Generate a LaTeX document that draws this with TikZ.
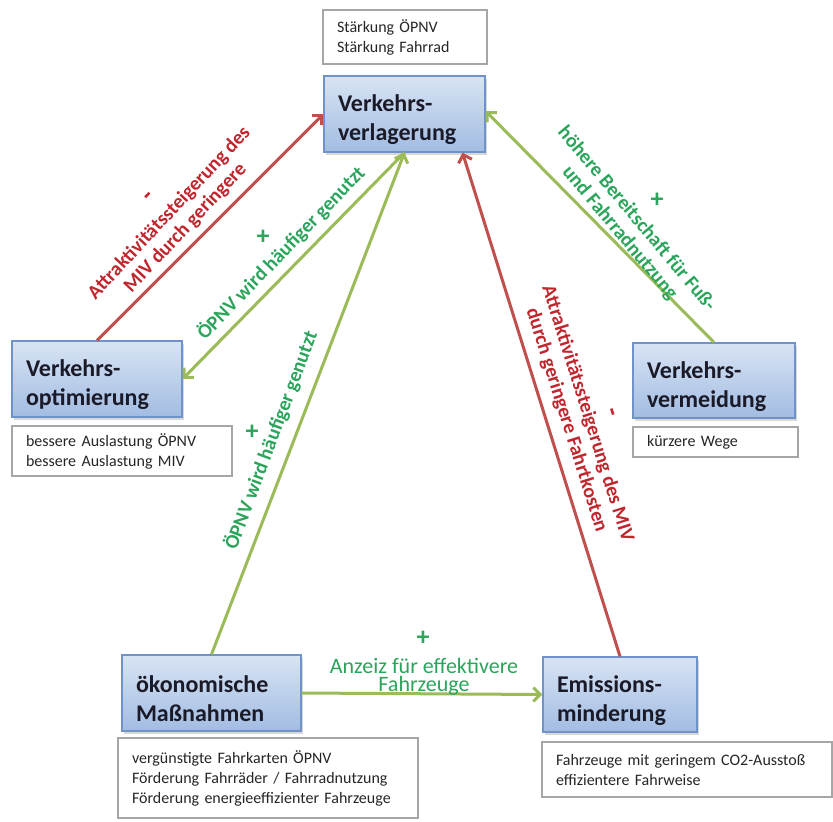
\documentclass[tikz,border=0pt]{standalone}
\usepackage{fontspec}
\setmainfont{Carlito}
\usetikzlibrary{arrows.meta,shadows}
\definecolor{nodeborder}{HTML}{6F93C8}
\definecolor{nodetop}{HTML}{D8E4F4}
\definecolor{nodebot}{HTML}{A2BCE2}
\definecolor{nodetext}{HTML}{1A1A28}
\definecolor{boxborder}{HTML}{A6A6A6}
\definecolor{boxtext}{HTML}{262626}
\definecolor{redline}{HTML}{C0504D}
\definecolor{redtext}{HTML}{C0262D}
\definecolor{greenline}{HTML}{9BBB59}
\definecolor{greentext}{HTML}{2BA55B}
\newcommand{\twolines}[3]{\vbox{\baselineskip=29pt\hbox to #1{\rule{0pt}{29pt}#2\hfil}\hbox to #1{#3\hfil}}}
\begin{document}
\begin{tikzpicture}[x=1pt,y=-1pt,
  mainbox/.style={draw=nodeborder, line width=1.2pt, top color=nodetop, bottom color=nodebot,
    drop shadow={opacity=0.3, shadow xshift=2pt, shadow yshift=-3pt},
    font=\fontsize{24}{29}\selectfont\bfseries, text=nodetext,
    inner xsep=14pt, inner ysep=0pt},
  infobox/.style={draw=boxborder, line width=1.3pt, fill=white,
    font=\fontsize{16}{20}\selectfont, text=boxtext, align=left,
    inner xsep=14pt, inner ysep=0pt},
  redarrow/.style={draw=redline, line width=3pt, -{Straight Barb[length=7pt,width=14pt]}},
  greenarrow/.style={draw=greenline, line width=3pt, -{Straight Barb[length=7pt,width=14pt]}},
  redlab/.style={text=redtext, font=\fontsize{20}{22}\selectfont\bfseries, align=center, inner sep=0pt},
  greenlab/.style={text=greentext, font=\fontsize{20}{22}\selectfont\bfseries, align=center, inner sep=0pt},
  redsign/.style={text=redtext, font=\fontsize{26}{26}\selectfont\bfseries, inner sep=0pt},
  greensign/.style={text=greentext, font=\fontsize{26}{26}\selectfont\bfseries, inner sep=0pt}
]
\useasboundingbox[fill=white] (0,0) rectangle (833,822);

% info boxes
\node[infobox, text width=136pt, minimum height=54pt] (b1) at (405,37) {Stärkung ÖPNV\\Stärkung Fahrrad};
\node[infobox, text width=192pt, minimum height=50pt] (b2) at (122,451) {bessere Auslastung ÖPNV\\bessere Auslastung MIV};
\node[infobox, text width=137pt, minimum height=30pt] (b3) at (715.5,442) {kürzere Wege};
\node[infobox, text width=272pt, minimum height=80pt] (b4) at (268,778) {vergünstigte Fahrkarten ÖPNV\\Förderung Fahrräder / Fahrradnutzung\\Förderung energieeffizienter Fahrzeuge};
\node[infobox, text width=262pt, minimum height=55pt] (b5) at (687,769.5) {Fahrzeuge mit geringem CO2-Ausstoß\\effizientere Fahrweise};

% main nodes
\node[mainbox, minimum height=76pt] (vl) at (404.5,114) {\twolines{133pt}{Verkehrs-}{verlagerung}};
\node[mainbox, minimum height=76pt] (opt) at (97,379) {\twolines{142pt}{Verkehrs-}{optimierung}};
\node[mainbox, minimum height=75pt] (vm) at (714,380.5) {\twolines{134pt}{Verkehrs-}{vermeidung}};
\node[mainbox, minimum height=76pt] (ok) at (211.5,693) {\twolines{151pt}{ökonomische}{Maßnahmen}};
\node[mainbox, minimum height=75pt] (em) at (620,694.5) {\twolines{126pt}{Emissions-}{minderung}};

% connectors
\draw[redarrow] (opt.north) -- (vl.west);
\draw[greenarrow] (vl.south) -- (opt.east);
\draw[greenarrow] (ok.north) -- (vl.south);
\draw[redarrow] (em.north) -- ([xshift=58pt]vl.south);
\draw[greenarrow] (vm.north) -- ([yshift=3pt]vl.east);
\draw[greenarrow] (ok.east) -- (em.west);

% labels
\node[redlab, rotate=47] (l1) at (177.5,220.5) {Attraktivitätssteigerung des\\MIV durch geringere};
\node[redsign, rotate=47] (s1) at (150,198) {-};
\node[greenlab, rotate=46] (l2) at (281,253) {ÖPNV wird häufiger genutzt};
\node[greensign] (s2) at (263,237) {+};
\node[greenlab, rotate=69.5] (l3) at (271,440) {ÖPNV wird häufiger genutzt};
\node[greensign] (s3) at (252,432) {+};
\node[redlab, rotate=-72.5] (l4) at (577,417) {Attraktivitätssteigerung des MIV\\durch geringere Fahrtkosten};
\node[redsign, rotate=-72.5] (s4) at (610,413) {-};
\node[greenlab, rotate=-50] (l5) at (628,226) {höhere Bereitschaft für Fuß-\\und Fahrradnutzung};
\node[greensign] (s5) at (657,200) {+};
\node[text=greentext, font=\fontsize{22}{18}\selectfont, align=center, inner sep=0pt] (l6) at (424,677) {Anzeiz für effektivere\\Fahrzeuge};
\node[greensign] (s6) at (423,638) {+};
\end{tikzpicture}
\end{document}
